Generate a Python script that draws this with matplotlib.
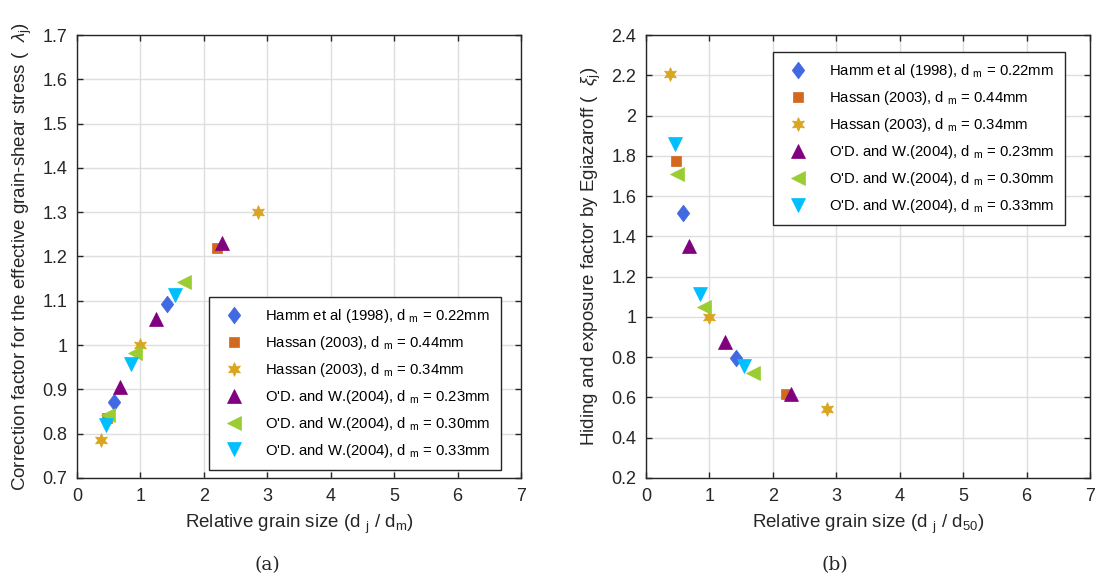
import matplotlib
matplotlib.use("Agg")
import matplotlib.pyplot as plt
from matplotlib.path import Path

plt.rcParams['font.family'] = ['Liberation Sans', 'DejaVu Sans']
plt.rcParams['mathtext.fontset'] = 'custom'
plt.rcParams['mathtext.rm'] = 'Liberation Sans'
plt.rcParams['mathtext.it'] = 'Liberation Sans:italic'

# ---------------- data ----------------
labels = [
    'Hamm et al (1998), d $_{\\mathregular{m}}$ = 0.22mm',
    'Hassan (2003), d $_{\\mathregular{m}}$ = 0.44mm',
    'Hassan (2003), d $_{\\mathregular{m}}$ = 0.34mm',
    "O'D. and W.(2004), d $_{\\mathregular{m}}$ = 0.23mm",
    "O'D. and W.(2004), d $_{\\mathregular{m}}$ = 0.30mm",
    "O'D. and W.(2004), d $_{\\mathregular{m}}$ = 0.33mm",
]
x_hamm = [0.58, 1.425]
x_has44 = [0.475, 2.21]
x_has34 = [0.385, 1.0, 2.85]
x_od23 = [0.675, 1.25, 2.28]
x_od30 = [0.49, 0.92, 1.69]
x_od33 = [0.455, 0.85, 1.55]

lam_hamm = [0.871, 1.092]
lam_has44 = [0.836, 1.22]
lam_has34 = [0.786, 1.0, 1.30]
lam_od23 = [0.906, 1.058, 1.231]
lam_od30 = [0.842, 0.983, 1.142]
lam_od33 = [0.82, 0.957, 1.113]

xi_hamm = [1.514, 0.798]
xi_has44 = [1.776, 0.619]
xi_has34 = [2.204, 1.0, 0.544]
xi_od23 = [1.353, 0.876, 0.619]
xi_od30 = [1.708, 1.05, 0.72]
xi_od33 = [1.859, 1.116, 0.755]

xs = [x_hamm, x_has44, x_has34, x_od23, x_od30, x_od33]
lams = [lam_hamm, lam_has44, lam_has34, lam_od23, lam_od30, lam_od33]
xis = [xi_hamm, xi_has44, xi_has34, xi_od23, xi_od30, xi_od33]

colors = ['#4169E1', '#D2691E', '#DAA520', '#800080', '#9ACD32', '#00BFFF']
diamond = Path([(0, 1), (0.75, 0), (0, -1), (-0.75, 0), (0, 1)],
               [Path.MOVETO, Path.LINETO, Path.LINETO, Path.LINETO, Path.CLOSEPOLY])
markers = [diamond, 's', (6, 1, 0), '^', '<', 'v']
msizes = [12, 7, 10, 10, 10, 10]

fig = plt.figure(figsize=(10.98, 5.83), dpi=100)
W, H = 1098, 583
axL = fig.add_axes([77 / W, (H - 478) / H, 444 / W, 443 / H])
axR = fig.add_axes([646 / W, (H - 478) / H, 444 / W, 443 / H])

def style(ax, ylim, yticks, yticklabels):
    ax.set_xlim(0, 7)
    ax.set_ylim(*ylim)
    ax.set_xticks(range(8))
    ax.set_yticks(yticks)
    ax.set_yticklabels(yticklabels)
    ax.grid(True, color='#dedede', linewidth=1.0)
    ax.set_axisbelow(True)
    for s in ax.spines.values():
        s.set_color('#262626')
        s.set_linewidth(1.0)
    ax.tick_params(direction='in', length=4, width=1, top=True, right=True,
                   labelsize=13, colors='#262626', pad=7)

def fmt(v):
    s = ('%.1f' % v)
    if s.endswith('.0'):
        s = s[:-2]
    return s

yL = [0.7 + 0.1 * i for i in range(11)]
style(axL, (0.7, 1.7), yL, [fmt(v) for v in yL])
yR = [0.2 + 0.2 * i for i in range(12)]
style(axR, (0.2, 2.4), yR, [fmt(v) for v in yR])

for x, l, c, m, ms, lab in zip(xs, lams, colors, markers, msizes, labels):
    axL.plot(x, l, linestyle='none', marker=m, color=c, markersize=ms,
             markeredgewidth=0.5, label=lab)
for x, v, c, m, ms, lab in zip(xs, xis, colors, markers, msizes, labels):
    axR.plot(x, v, linestyle='none', marker=m, color=c, markersize=ms,
             markeredgewidth=0.5, label=lab)

legkw = dict(frameon=True, fancybox=False, framealpha=1, edgecolor='#262626',
             fontsize=10.7, borderaxespad=0, handletextpad=1.1, labelspacing=0.6,
             borderpad=0.7, handlelength=2.0)
lg = axL.legend(loc='lower left', bbox_to_anchor=(0.297, 0.018), **legkw)
lg.get_frame().set_linewidth(1.0)
lg2 = axR.legend(loc='upper left', bbox_to_anchor=(0.286, 0.962), **legkw)
lg2.get_frame().set_linewidth(1.0)

axL.set_xlabel('Relative grain size (d $_{\\mathregular{j}}$ / d$_{\\mathregular{m}}$)', fontsize=13.5,
               color='#262626', labelpad=6)
axR.set_xlabel('Relative grain size (d $_{\\mathregular{j}}$ / d$_{\\mathregular{50}}$)', fontsize=13.5,
               color='#262626', labelpad=6)
axL.set_ylabel('Correction factor for the effective grain-shear stress (  $\\lambda_{\\mathregular{j}}$)',
               fontsize=13.5, color='#262626', labelpad=6)
axR.set_ylabel('Hiding and exposure factor by Egiazaroff (  $\\xi_{\\mathregular{j}}$)',
               fontsize=13.5, color='#262626', labelpad=6)

fig.text(267 / W, 1 - 565 / H, '(a)', ha='center', va='center', fontsize=13.5,
         family='DejaVu Serif', color='#262626')
fig.text(835 / W, 1 - 565 / H, '(b)', ha='center', va='center', fontsize=13.5,
         family='DejaVu Serif', color='#262626')

fig.savefig('out.png', dpi=100)
